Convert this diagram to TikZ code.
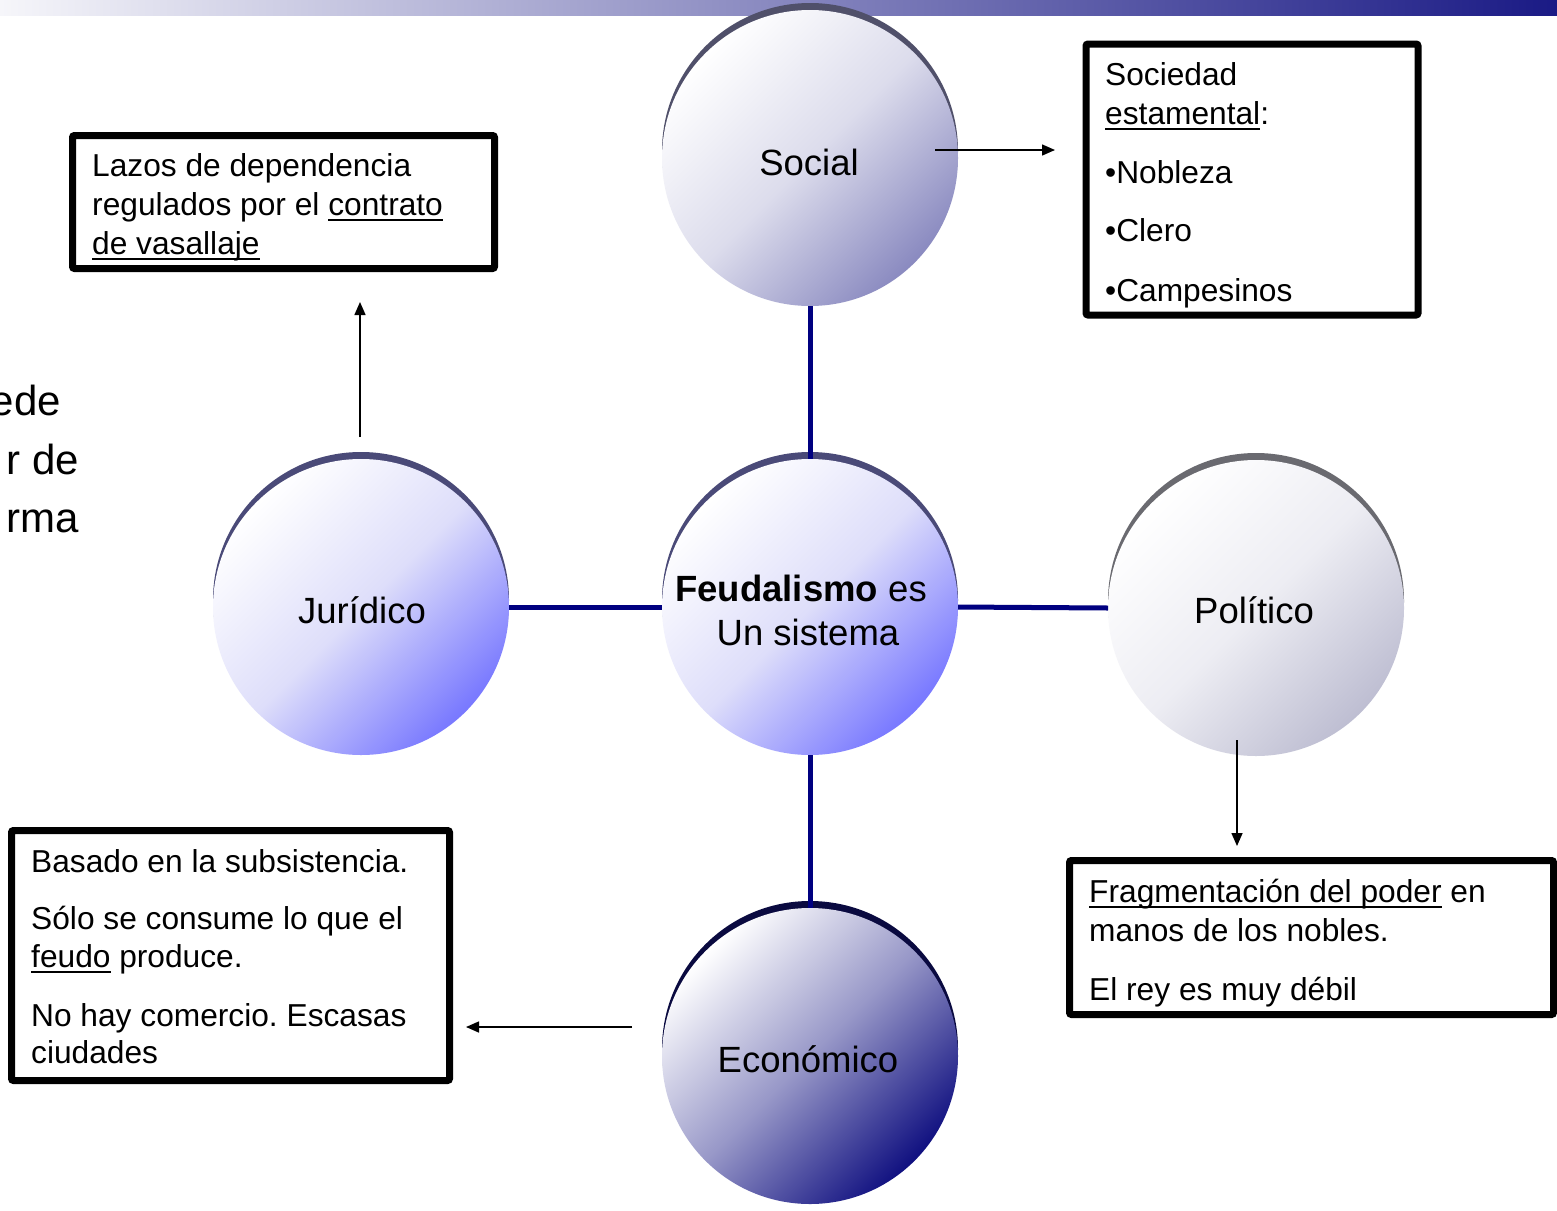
\documentclass[tikz,border=0pt]{standalone}
\usepackage{fontspec}
\setmainfont{Liberation Sans}
\usetikzlibrary{arrows.meta}
\definecolor{navyline}{HTML}{000080}
\definecolor{barL}{HTML}{F6F6FA}
\definecolor{barR}{HTML}{1A1A85}
\definecolor{rimA}{HTML}{4A4A78}
\definecolor{rimS}{HTML}{50506A}
\definecolor{rimP}{HTML}{6A6A70}
\definecolor{rimE}{HTML}{0A0A40}
\definecolor{cenM}{HTML}{DEDEFA}
\definecolor{cenB}{HTML}{7878FF}
\definecolor{socM}{HTML}{DCDCEC}
\definecolor{socB}{HTML}{8A8AC0}
\definecolor{polM}{HTML}{EDEDF3}
\definecolor{polB}{HTML}{BEBED2}
\definecolor{ecoM}{HTML}{9898C8}
\definecolor{ecoB}{HTML}{101080}
\newcommand\myul[1]{\setbox0\hbox{#1}\rlap{\rule[-6pt]{\wd0}{2pt}}\box0\relax}
\frenchspacing
\begin{document}
\begin{tikzpicture}[x=1pt,y=-1pt,
  bub/.style n args={2}{circle, inner sep=0pt, outer sep=0pt, minimum size=296pt, top color=white, bottom color=#2, middle color=#1, shading angle=45},
  rimc/.style={circle, inner sep=0pt, outer sep=0pt, minimum size=296pt, fill=#1},
  box/.style={draw=black, line width=7pt, rounded corners=2pt, inner sep=0pt, outer sep=0pt, anchor=north west, fill=white},
  lbl/.style={font=\fontsize{36.5}{44}\selectfont, anchor=base, inner sep=0pt},
  txt/.style={font=\fontsize{31.7}{39}\selectfont, anchor=base west, inner sep=0pt},
  part/.style={font=\fontsize{42}{50}\selectfont, anchor=base east, inner sep=0pt},
  conn/.style={draw=navyline, line width=5pt},
  arr/.style={draw=black, line width=1.5pt, -{Triangle[length=13pt,width=11pt]}}]
\useasboundingbox (0,0) rectangle (1557,1210);
\fill[white] (0,0) rectangle (1557,1210);
% top bar
\shade[left color=barL, right color=barR] (0,0) rectangle (1557,15);

% partial text at left edge
\node[part] (p1) at (61,415) {ede};
\node[part] (p2) at (79,474) {r de};
\node[part] (p3) at (79,532) {rma};

% rims
\node[rimc=rimS] (socialrim) at (810,151) {};
\node[rimc=rimA] (centrerim) at (810,600) {};
\node[rimc=rimA] (jurrim) at (361,600) {};
\node[rimc=rimP] (polrim) at (1256,601) {};
\node[rimc=rimE] (ecorim) at (810,1049) {};

% circles
\node[bub={socM}{socB}] (social) at (810,158) {};
\node[bub={cenM}{cenB}] (centre) at (810,607) {};
\node[bub={cenM}{cenB}] (juridico) at (361,607) {};
\node[bub={polM}{polB}] (politico) at (1256,608) {};
\node[bub={ecoM}{ecoB}] (economico) at (810,1056) {};

% circle labels
\node[lbl] (tsocial) at (809,175) {Social};
\node[lbl] (tjur) at (362,623) {Jurídico};
\node[lbl] (tpol) at (1254,623) {Político};
\node[lbl] (teco) at (808,1072) {Económico};
\node[lbl] (tfeu1) at (801,601) {\textbf{Feudalismo} es};
\node[lbl] (tfeu2) at (808,645) {Un sistema};

% navy connectors
\draw[conn] (social.south) -- (centre.north);
\draw[conn] (juridico.east) -- (centre.west);
\draw[conn] (centre.east) -- (politico.west);
\draw[conn] (centre.south) -- (economico.north);

% boxes
\node[box, minimum width=422pt, minimum height=133pt] (lazos) at (72.5,135.5) {};
\node[box, minimum width=332pt, minimum height=271pt] (socbox) at (1086,44) {};
\node[box, minimum width=438pt, minimum height=250pt] (ecobox) at (11.5,830.5) {};
\node[box, minimum width=484pt, minimum height=154pt] (polbox) at (1069.5,860.5) {};

% box texts
\node[txt] (l1) at (92,176) {Lazos de dependencia};
\node[txt] (l2) at (92,215) {regulados por el \myul{contrato}};
\node[txt] (l3) at (92,254) {\myul{de vasallaje}};

\node[txt] (s1) at (1105,85) {Sociedad};
\node[txt] (s2) at (1105,124) {\myul{estamental}:};
\node[txt] (s3) at (1105,183) {•Nobleza};
\node[txt] (s4) at (1105,241) {•Clero};
\node[txt] (s5) at (1105,301) {•Campesinos};

\node[txt] (e1) at (31,872) {Basado en la subsistencia.};
\node[txt] (e2) at (31,929) {Sólo se consume lo que el};
\node[txt] (e3) at (31,967) {\myul{feudo} produce.};
\node[txt] (e4) at (31,1026) {No hay comercio. Escasas};
\node[txt] (e5) at (31,1063) {ciudades};

\node[txt] (f1) at (1089,902) {\myul{Fragmentación del poder} en};
\node[txt] (f2) at (1089,941) {manos de los nobles.};
\node[txt] (f3) at (1089,1000) {El rey es muy débil};

% arrows
\coordinate (socA) at (935,150);
\coordinate (jurA) at (360,437);
\coordinate (polA) at (1237,740);
\coordinate (ecoA) at (632,1027);
\draw[arr, shorten >=31pt] (socA) -- (socA -| socbox.west);
\draw[arr, shorten >=33.5pt] (jurA) -- (jurA |- lazos.south);
\draw[arr, shorten >=14.5pt] (polA) -- (polA |- polbox.north);
\draw[arr, shorten >=16.5pt] (ecoA) -- (ecoA -| ecobox.east);
\end{tikzpicture}
\end{document}
